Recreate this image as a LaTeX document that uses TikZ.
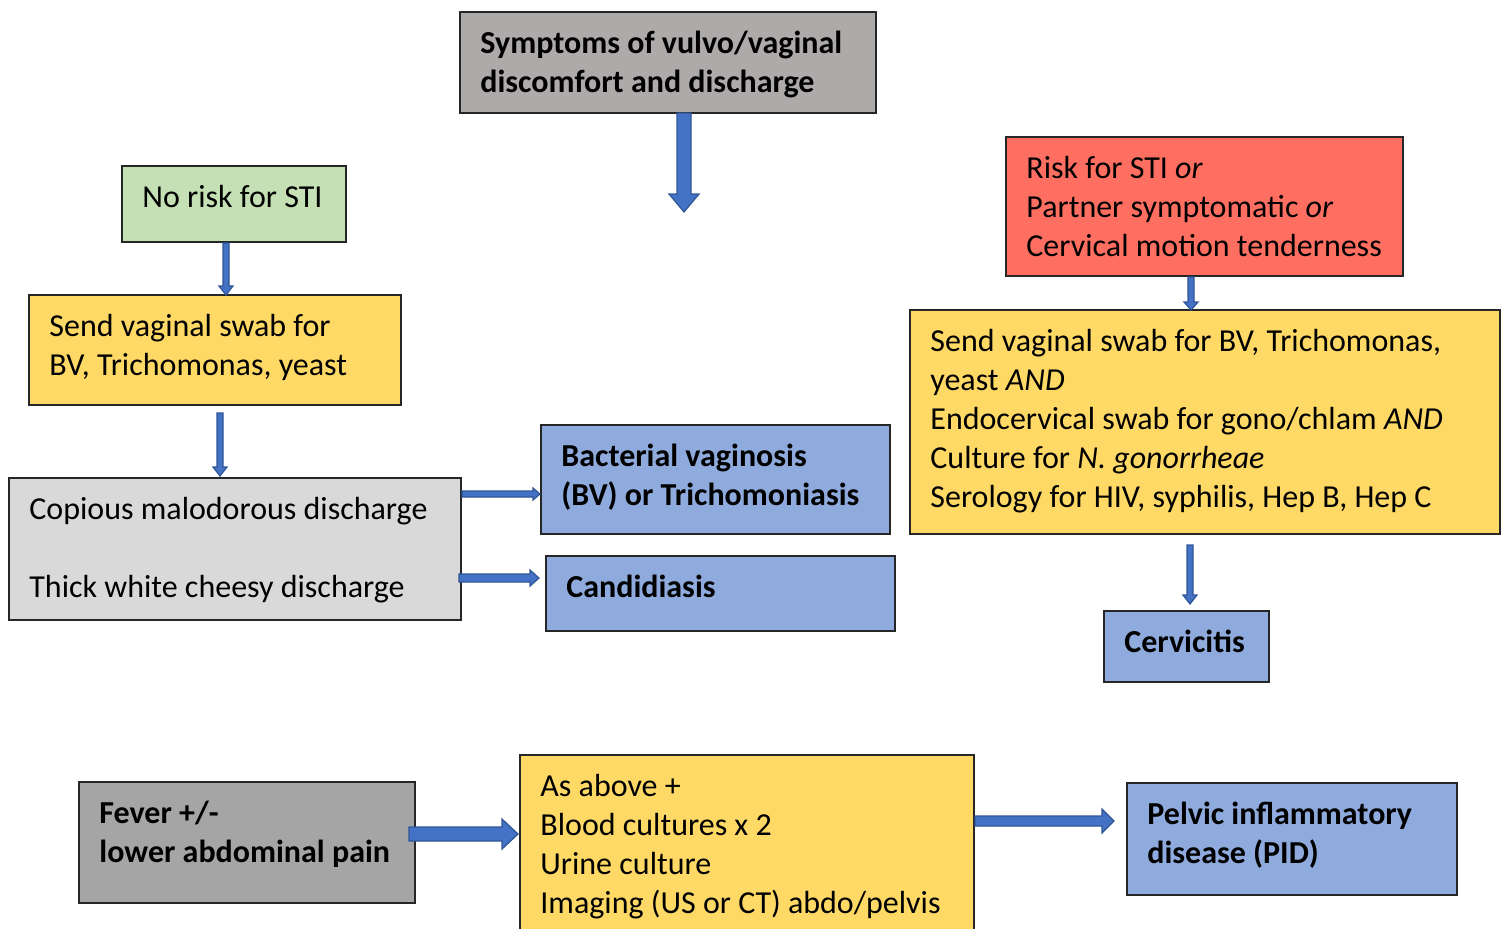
\documentclass[tikz,border=0pt]{standalone}
\usepackage{fontspec}
\setmainfont{Carlito}
\definecolor{cgray}{HTML}{AEAAAA}
\definecolor{cgreen}{HTML}{C5E0B4}
\definecolor{cyellow}{HTML}{FFD966}
\definecolor{clight}{HTML}{D9D9D9}
\definecolor{cblue}{HTML}{8FAADC}
\definecolor{cred}{HTML}{FF6F61}
\definecolor{cdark}{HTML}{A5A5A5}
\definecolor{afill}{HTML}{4472C4}
\definecolor{aline}{HTML}{2F5597}
\definecolor{bline}{HTML}{262626}
\tikzset{
  boxshape/.style={draw=bline, line width=0.65pt, rectangle},
  boxtext/.style={anchor=north west, inner sep=0pt, align=left, font=\fontsize{16}{19.5}\selectfont},
  blockarrow/.style={fill=afill, draw=aline, line width=0.6pt, line join=miter},
}
\newcommand\mybox[7]{% name, x1, y1, x2, y2, fill, text
  \path[boxshape, fill=#6] (#2,#3) rectangle (#4,#5);
  \node[boxtext] (#1) at ({#2+20},{#3+14}) {\strut #7};
}
\newcommand\darrow[6]{% x, ytop, ybot, halfshaft, halfhead, headlen
  \filldraw[blockarrow] ({#1-#4},#2) -- ({#1+#4},#2) -- ({#1+#4},{#3-#6}) -- ({#1+#5},{#3-#6}) -- (#1,#3) -- ({#1-#5},{#3-#6}) -- ({#1-#4},{#3-#6}) -- cycle;}
\newcommand\rarrow[6]{% y, xleft, xright, halfshaft, halfhead, headlen
  \filldraw[blockarrow] (#2,{#1-#4}) -- ({#3-#6},{#1-#4}) -- ({#3-#6},{#1-#5}) -- (#3,#1) -- ({#3-#6},{#1+#5}) -- ({#3-#6},{#1+#4}) -- (#2,{#1+#4}) -- cycle;}
\begin{document}
\begin{tikzpicture}[x=0.5pt,y=-0.5pt]
\useasboundingbox (0,0) rectangle (1504,928);
\begin{scope}
\clip (0,0) rectangle (1504,928);
\mybox{sym}{460}{12}{876}{113}{cgray}{\textbf{Symptoms of vulvo/vaginal}\\\textbf{discomfort and discharge}}
\mybox{norisk}{122}{166}{346}{242}{cgreen}{No risk for STI}
\mybox{swab}{29}{295}{401}{405}{cyellow}{Send vaginal swab for\\BV, Trichomonas, yeast}
\mybox{disch}{9}{478}{461}{620}{clight}{Copious malodorous discharge\\ \\Thick white cheesy discharge}
\mybox{bv}{541}{425}{890}{534}{cblue}{\textbf{Bacterial vaginosis}\\\textbf{(BV) or Trichomoniasis}}
\mybox{cand}{546}{556}{895}{631}{cblue}{\textbf{Candidiasis}}
\mybox{risk}{1006}{137}{1403}{276}{cred}{Risk for STI \textit{or}\\Partner symptomatic \textit{or}\\Cervical motion tenderness}
\mybox{swab2}{910}{310}{1500}{534}{cyellow}{Send vaginal swab for BV, Trichomonas,\\yeast \textit{AND}\\Endocervical swab for gono/chlam \textit{AND}\\Culture for \textit{N. gonorrheae}\\Serology for HIV, syphilis, Hep B, Hep C}
\mybox{cerv}{1104}{611}{1269}{682}{cblue}{\textbf{Cervicitis}}
\mybox{fever}{79}{782}{415}{903}{cdark}{\textbf{Fever +/-}\\\textbf{lower abdominal pain}}
\mybox{above}{520}{755}{974}{940}{cyellow}{As above +\\Blood cultures x 2\\Urine culture\\Imaging (US or CT) abdo/pelvis}
\mybox{pid}{1127}{783}{1457}{895}{cblue}{\textbf{Pelvic inflammatory}\\\textbf{disease (PID)}}
\end{scope}
\darrow{684}{113}{212}{7}{15}{18}
\darrow{226}{243}{295}{3}{7}{9}
\darrow{220}{413}{476}{3}{7}{9}
\rarrow{494}{462}{540}{3}{6}{7}
\rarrow{578}{459}{539}{4}{8}{9}
\rarrow{834}{409}{518}{7}{15}{16}
\rarrow{821}{975}{1114}{5}{12}{12}
\darrow{1191}{277}{310}{3}{7}{8}
\darrow{1190}{545}{604}{3}{7}{9}
\end{tikzpicture}
\end{document}
